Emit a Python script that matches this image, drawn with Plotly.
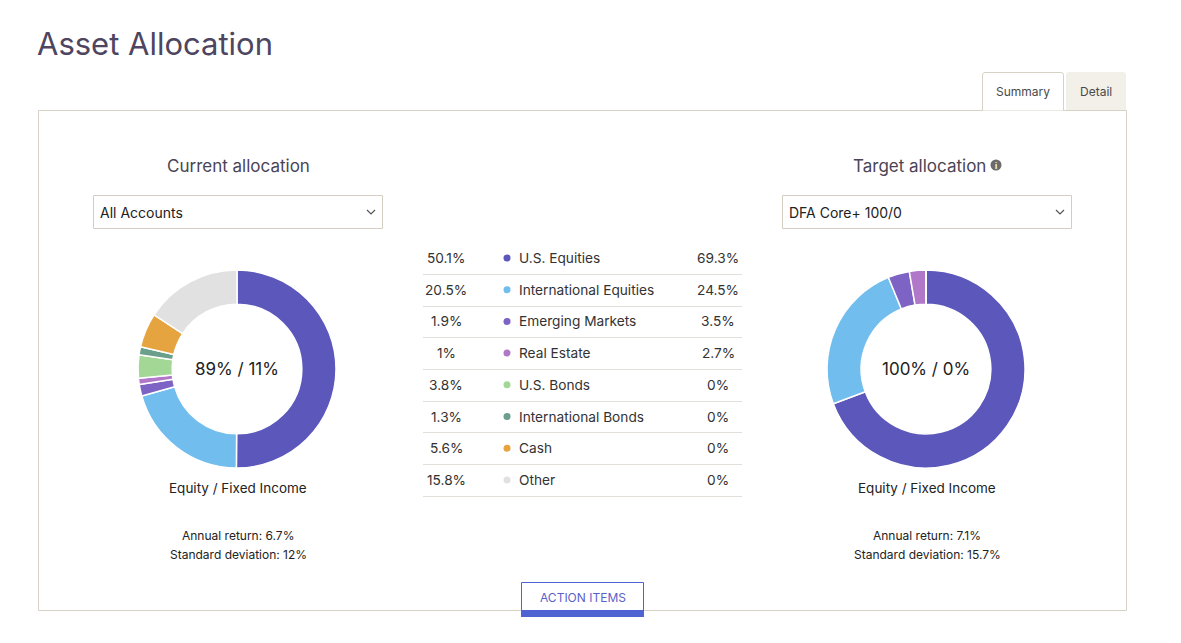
import plotly.graph_objects as go

W, H = 1181, 643

# ---------------- data ----------------
categories = ["U.S. Equities", "International Equities", "Emerging Markets", "Real Estate",
              "U.S. Bonds", "International Bonds", "Cash", "Other"]
current_values = [50.1, 20.5, 1.9, 1, 3.8, 1.3, 5.6, 15.8]
target_values = [69.3, 24.5, 3.5, 2.7, 0, 0, 0, 0]
current_labels = ["50.1%", "20.5%", "1.9%", "1%", "3.8%", "1.3%", "5.6%", "15.8%"]
target_labels = ["69.3%", "24.5%", "3.5%", "2.7%", "0%", "0%", "0%", "0%"]
colors = ["#5b57bb", "#70bdee", "#7c63c4", "#b178c9", "#a3d796", "#6a9f8b", "#e5a440", "#e1e1e1"]

current_split = "89% / 11%"
target_split = "100% / 0%"
current_stats = ["Annual return: 6.7%", "Standard deviation: 12%"]
target_stats = ["Annual return: 7.1%", "Standard deviation: 15.7%"]

FONT = "Inter"
BORDER = "#d6d2c5"

fig = go.Figure()

def pie_domain(cx, cy, r):
    return dict(x=[(cx - r) / W, (cx + r) / W], y=[1 - (cy + r) / H, 1 - (cy - r) / H])

for vals, cx in [(current_values, 237), (target_values, 926)]:
    fig.add_trace(go.Pie(
        labels=categories, values=vals, hole=0.655, sort=False, direction="clockwise",
        rotation=0, marker=dict(colors=colors, line=dict(color="white", width=1.5)),
        textinfo="none", hoverinfo="label+percent", showlegend=False,
        domain=pie_domain(cx, 369, 99)))

# pixel-space hidden axes for table markers / annotations
row_y0, row_step = 258, 31.7
rows_y = [row_y0 + i * row_step for i in range(len(categories))]
fig.add_trace(go.Scatter(
    x=[507] * len(categories), y=rows_y, mode="markers",
    marker=dict(color=colors, size=7), hoverinfo="skip", showlegend=False,
    xaxis="x", yaxis="y"))

fig.update_layout(
    width=W, height=H, margin=dict(l=0, r=0, t=0, b=0),
    paper_bgcolor="white", plot_bgcolor="rgba(0,0,0,0)",
    xaxis=dict(range=[0, W], visible=False, fixedrange=True, domain=[0, 1]),
    yaxis=dict(range=[H, 0], visible=False, fixedrange=True, domain=[0, 1]),
    font=dict(family=FONT, color="#333333"),
)

shapes = []
ann = []

def text(x, y, s, size, color="#333333", xanchor="center", yanchor="middle", **kw):
    ann.append(dict(x=x, y=y, xref="x", yref="y", text=s, showarrow=False,
                    xanchor=xanchor, yanchor=yanchor,
                    font=dict(family=FONT, size=size, color=color), **kw))

# title
text(35, 43, "Asset Allocation", 31, "#4e4560", xanchor="left")

# main box
shapes.append(dict(type="rect", xref="x", yref="y", x0=38.5, x1=1126.5, y0=110.5, y1=610.5,
                   line=dict(color=BORDER, width=1), fillcolor="white", layer="below"))
# tabs
shapes.append(dict(type="path", xref="x", yref="y",
                   path="M 982.5 110.5 L 982.5 75 Q 982.5 72.5 985 72.5 L 1061 72.5 Q 1063.5 72.5 1063.5 75 L 1063.5 110.5",
                   line=dict(color=BORDER, width=1), fillcolor="white"))
shapes.append(dict(type="path", xref="x", yref="y",
                   path="M 1066 110 L 1066 75 Q 1066 72 1069 72 L 1123 72 Q 1126 72 1126 75 L 1126 110 Z",
                   line=dict(width=0), fillcolor="#f3f0ea"))
text(1023, 91, "Summary", 12, "#4a4a4a")
text(1096, 91, "Detail", 12, "#4a4a4a")

# section headings
text(238, 166, "Current allocation", 17, "#4a4455")
text(919, 166, "Target allocation", 17, "#4a4455")
shapes.append(dict(type="circle", xref="x", yref="y", x0=990.5, x1=1001.5, y0=159.5, y1=170.5,
                   line=dict(width=0), fillcolor="#6b6b6b"))
text(996, 165.5, "<b>i</b>", 8, "white")

# dropdowns
for x0, x1, label in [(93, 382, "All Accounts"), (782, 1071, "DFA Core+ 100/0")]:
    shapes.append(dict(type="rect", xref="x", yref="y", x0=x0 + 0.5, x1=x1 + 0.5, y0=195.5, y1=228.5,
                       line=dict(color="#d2cec4", width=1), fillcolor="white"))
    text(x0 + 5, 212.5, label, 14, "#222222", xanchor="left")
    cx = x1 - 11
    shapes.append(dict(type="path", xref="x", yref="y",
                       path=f"M {cx-4} {210} L {cx} {214} L {cx+4} {210}",
                       line=dict(color="#555555", width=1.2)))

# donut centre texts and captions
for cx, split, stats in [(237, current_split, current_stats), (926, target_split, target_stats)]:
    text(cx, 369, split, 17, "#222222")
    text(cx + 1, 488, "Equity / Fixed Income", 13.5, "#222222")
    text(cx + 1, 535, stats[0], 12, "#222222")
    text(cx + 1, 554, stats[1], 12, "#222222")

# table
for i, y in enumerate(rows_y):
    text(446, y, current_labels[i], 13.7, "#333333")
    text(517, y, categories[i], 13.7, "#333333", xanchor="left")
    text(718, y, target_labels[i], 13.7, "#333333")
    ly = round(y + 16) + 0.5
    shapes.append(dict(type="line", xref="x", yref="y", x0=423, x1=742, y0=ly, y1=ly,
                       line=dict(color="#e2dfd8", width=1)))

# action items button
shapes.append(dict(type="rect", xref="x", yref="y", x0=521.5, x1=643.5, y0=582.5, y1=616.5,
                   line=dict(color="#4f63d2", width=1), fillcolor="white"))
shapes.append(dict(type="rect", xref="x", yref="y", x0=521, x1=644, y0=610, y1=617,
                   line=dict(width=0), fillcolor="#4f63d2"))
text(582.5, 597, "ACTION ITEMS", 12, "#5a5fc8")

fig.update_layout(shapes=shapes, annotations=ann)
fig.write_html("out.html")
